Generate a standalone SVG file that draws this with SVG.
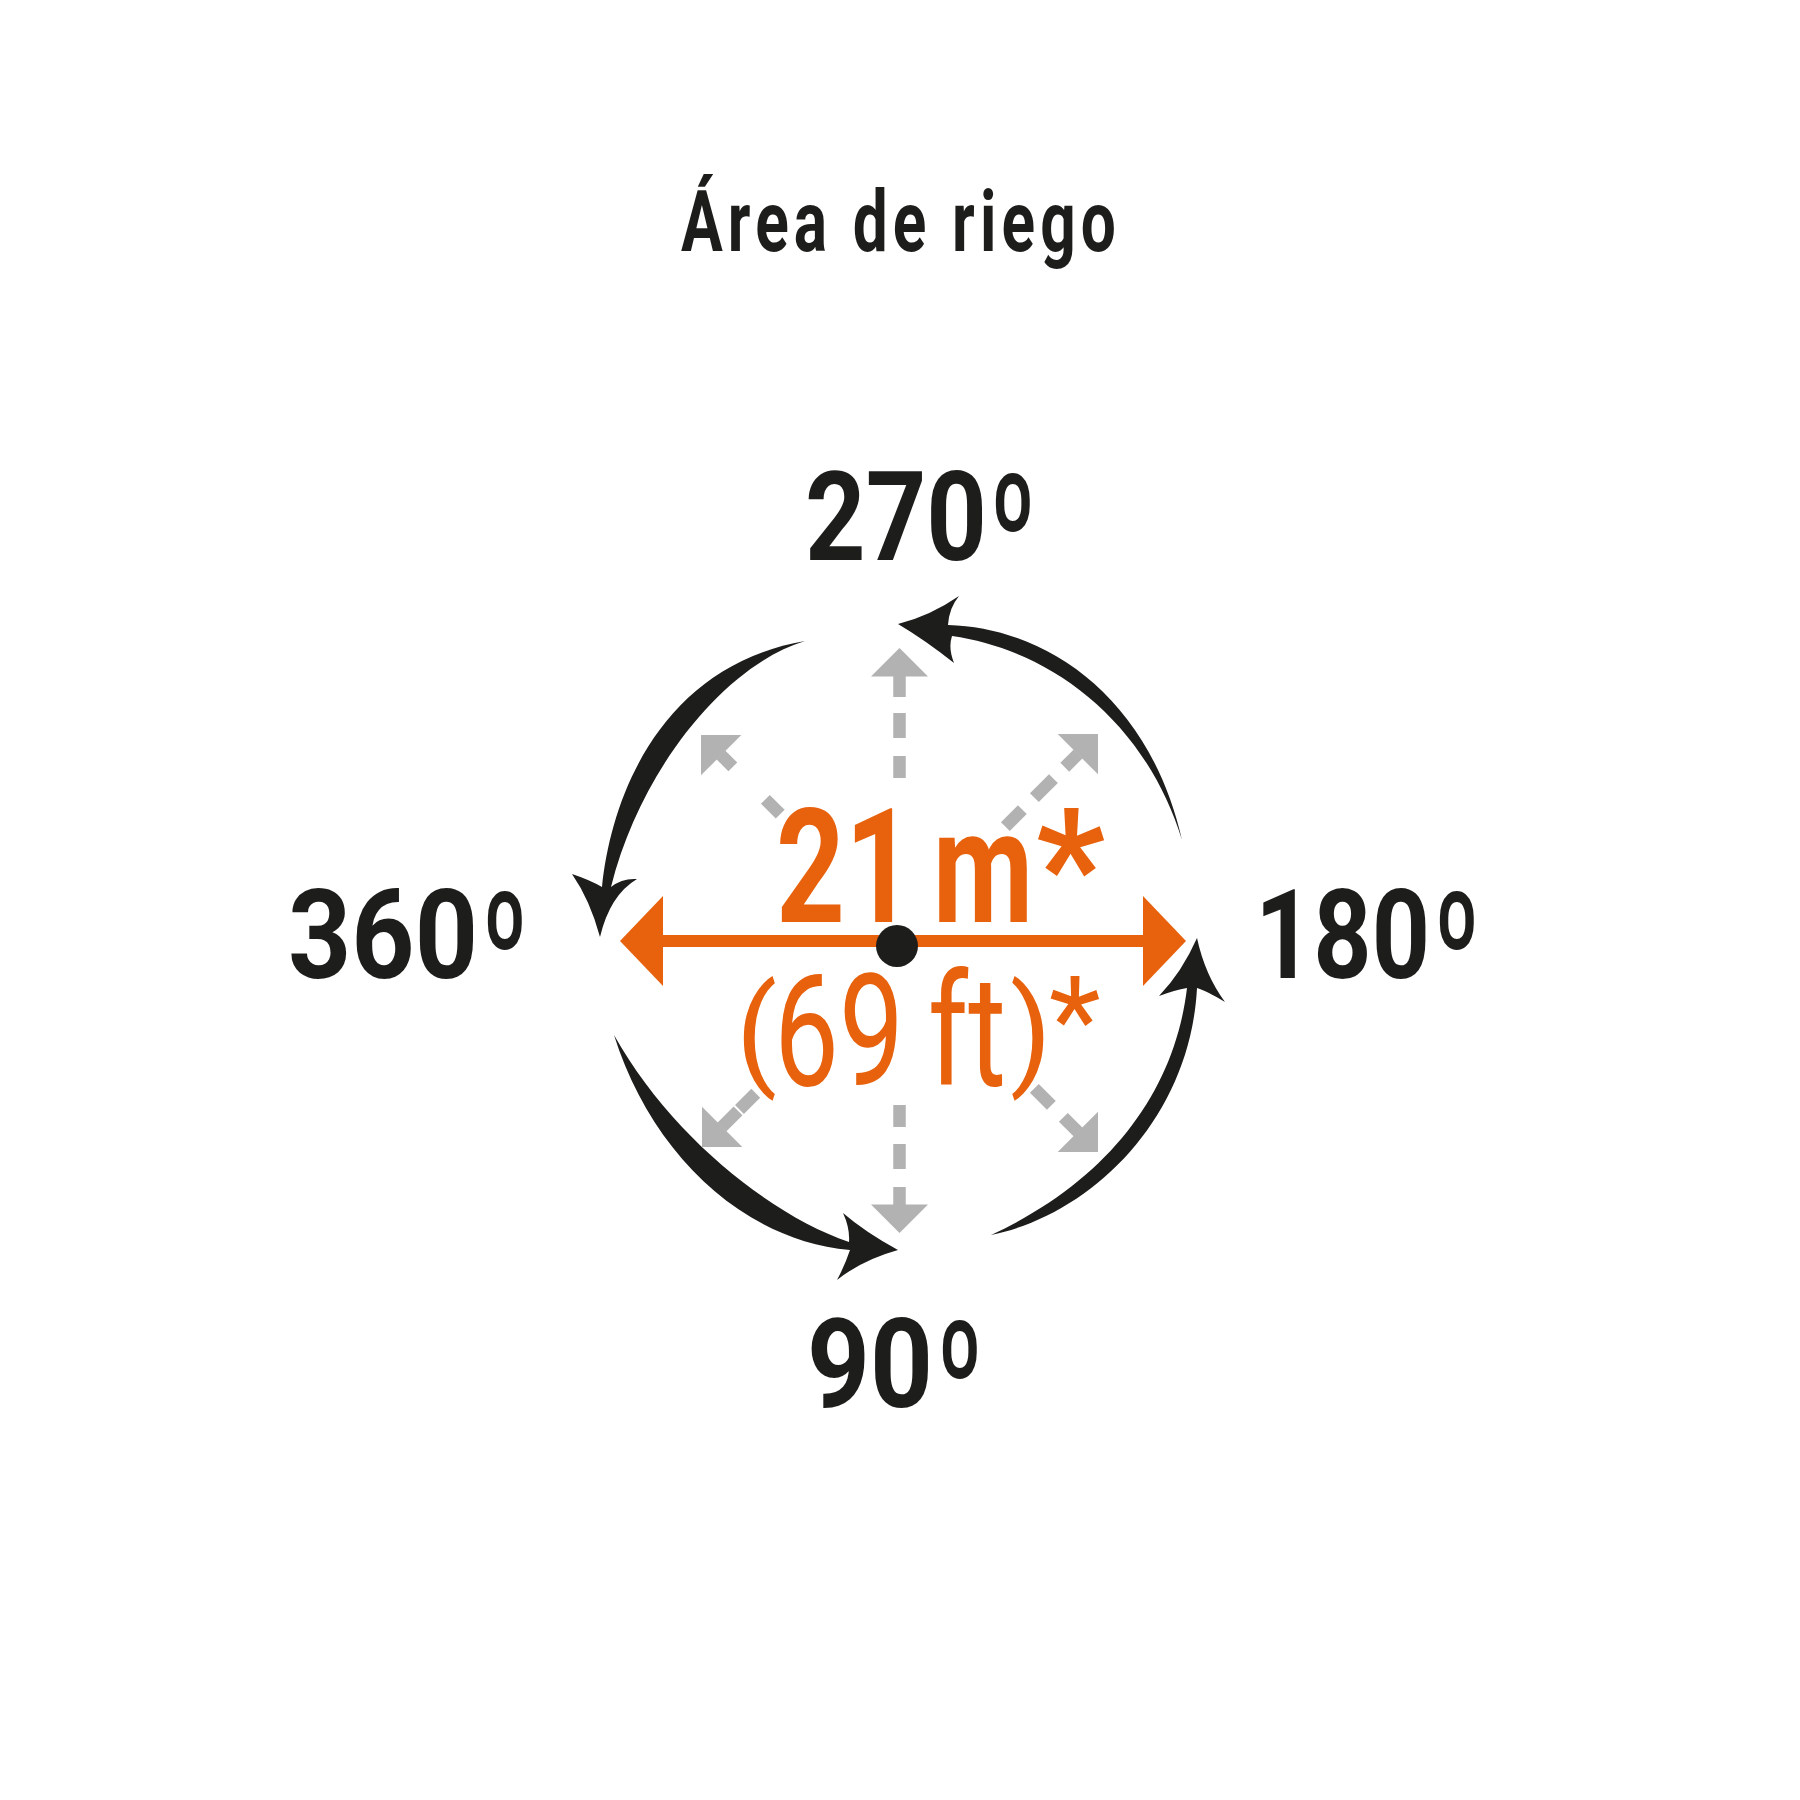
<svg xmlns="http://www.w3.org/2000/svg" width="1800" height="1800" viewBox="0 0 1800 1800">
  <style>
    .k{fill:#1d1d1b}
    .o{fill:#e8620e}
    .g{fill:#b2b2b2}
    text{font-family:Roboto,"Liberation Sans",sans-serif}
    .b{font-weight:700}
    .lbl{font-weight:700;font-size:124px;fill:#1d1d1b}
    .deg{font-size:155px}
  </style>
  <defs>
    <polygon id="gh" points="0,0 28.5,28.5 -28.5,28.5"/>
  </defs>
  <rect width="1800" height="1800" fill="#ffffff"/>

  <g id="title">
    <text x="681" y="251" class="b k" font-size="85" letter-spacing="7" textLength="440" lengthAdjust="spacingAndGlyphs">Área de riego</text>
  </g>

  <g id="connectors">
    <g id="gray-arrows" class="g">
      <g transform="translate(899.5,648)"><use href="#gh"/><rect x="-6.25" y="28" width="12.5" height="21"/><rect x="-6.25" y="65" width="12.5" height="25"/><rect x="-6.25" y="108" width="12.5" height="22"/></g>
      <g transform="translate(899.5,1233) rotate(180)"><use href="#gh"/><rect x="-6.25" y="28" width="12.5" height="18"/><rect x="-6.25" y="64" width="12.5" height="25"/><rect x="-6.25" y="106" width="12.5" height="22"/></g>
      <g transform="translate(1098,734) rotate(45)"><use href="#gh"/><rect x="-6.25" y="28" width="12.5" height="19"/><rect x="-6.25" y="63" width="12.5" height="27"/><rect x="-6.25" y="107" width="12.5" height="24"/></g>
      <g transform="translate(701,735) rotate(-45)"><use href="#gh"/><rect x="-6.25" y="28" width="12.5" height="17"/><rect x="-6.25" y="91" width="12.5" height="21"/></g>
      <g transform="translate(702,1147) rotate(-135)"><use href="#gh"/><rect x="-6.25" y="28" width="12.5" height="23"/><rect x="-6.25" y="53" width="12.5" height="23"/></g>
      <g transform="translate(1098,1152) rotate(135)"><use href="#gh"/><rect x="-6.25" y="28" width="12.5" height="21"/><rect x="-6.25" y="66" width="12.5" height="24"/></g>
    </g>
    <g id="rotation-arrows" class="k">
      <path d="M898,624 Q930,616 959,596 Q949,608 948,625 C1050,628 1150,700 1182,840 C1145,720 1050,650 952,636 Q948,648 954,663 Q925,640 898,624 Z"/>
      <path d="M600,937 Q590,900 572,874 Q590,880 602,887 C612,790 665,665 805,641 C725,665 640,770 611,887 Q622,878 637,879 Q610,895 600,937 Z"/>
      <path d="M898,1250 Q865,1232 843,1213 Q850,1228 849,1242 C770,1215 670,1135 614,1035 C650,1150 740,1240 850,1250 Q845,1265 837,1280 Q862,1260 898,1250 Z"/>
      <path d="M1197,938 Q1182,972 1159,996 Q1175,990 1187,988 C1175,1090 1110,1180 991,1235 C1090,1215 1190,1120 1197,988 Q1205,990 1225,1002 Q1205,975 1197,938 Z"/>
    </g>
    <g id="range-arrow" class="o">
      <rect x="660" y="935" width="486" height="12"/>
      <polygon points="620,941 663,896 663,986"/>
      <polygon points="1186,941 1143,896 1143,986"/>
    </g>
  </g>

  <g id="range-text">
    <text y="922" class="b o" font-size="160"><tspan x="776" textLength="138" lengthAdjust="spacingAndGlyphs">21</tspan> <tspan x="933" textLength="100" lengthAdjust="spacingAndGlyphs">m</tspan><tspan x="1036" textLength="69" lengthAdjust="spacingAndGlyphs">*</tspan></text>
    <text class="o" font-size="155"><tspan x="736" y="1073" font-size="120">(</tspan><tspan x="774" y="1085" textLength="130" lengthAdjust="spacingAndGlyphs">69</tspan> <tspan x="928" y="1085" textLength="78" lengthAdjust="spacingAndGlyphs">ft</tspan><tspan x="1010" y="1073" font-size="120">)</tspan><tspan x="1049" y="1062" font-size="120">*</tspan></text>
  </g>

  <g id="center">
    <circle cx="897" cy="946" r="21" class="k"/>
  </g>

  <g id="label-270">
    <text y="560" class="lbl"><tspan x="805" textLength="182" lengthAdjust="spacingAndGlyphs">270</tspan><tspan x="990" dy="24" class="deg" textLength="46" lengthAdjust="spacingAndGlyphs">º</tspan></text>
  </g>
  <g id="label-360">
    <text y="978" class="lbl"><tspan x="288" textLength="190" lengthAdjust="spacingAndGlyphs">360</tspan><tspan x="482" dy="24" class="deg" textLength="46" lengthAdjust="spacingAndGlyphs">º</tspan></text>
  </g>
  <g id="label-180">
    <text y="978" class="lbl"><tspan x="1255" textLength="175" lengthAdjust="spacingAndGlyphs">180</tspan><tspan x="1434" dy="24" class="deg" textLength="46" lengthAdjust="spacingAndGlyphs">º</tspan></text>
  </g>
  <g id="label-90">
    <text y="1407" class="lbl"><tspan x="807" textLength="126" lengthAdjust="spacingAndGlyphs">90</tspan><tspan x="937" dy="24" class="deg" textLength="46" lengthAdjust="spacingAndGlyphs">º</tspan></text>
  </g>
</svg>
